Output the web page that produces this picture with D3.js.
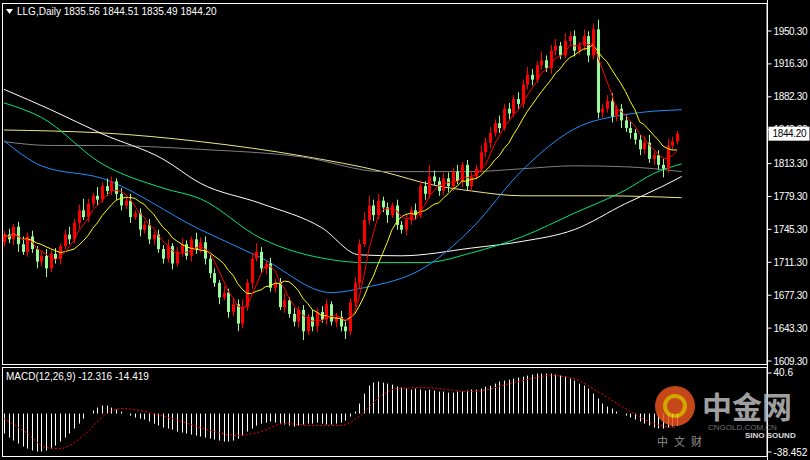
<!DOCTYPE html>
<html><head><meta charset="utf-8">
<script src="https://cdn.jsdelivr.net/npm/d3@7"></script>
<style>body{margin:0;background:#000}svg{display:block;font-family:"Liberation Sans",sans-serif}</style>
</head><body>
<script>
const closes = [1740,1735,1748,1730,1722,1738,1725,1712,1718,1705,1720,
  1715,1728,1740,1735,1752,1765,1758,1772,1780,1776,
  1790,1785,1795,1782,
  1770,1775,1758,1762,1745,1750,1735,1740,1725,
  1715,1728,1710,1722,1730,1718,1735,1725,1732,
  1715,1700,1690,1675,1680,1660,1668,1648,
  1665,1690,1715,1722,
  1705,1710,1685,1690,1665,1672,1658,
  1650,1662,1640,1655,1645,1660,1652,1668,1650,1655,1645,
  1640,
  1670,1690,1730,1755,1770,
  1760,1775,1768,1760,1770,1750,1745,
  1755,1765,1760,1790,1782,1800,1795,1785,
  1798,1790,1805,1795,1812,1790,1800,1808,
  1825,1835,1845,1855,1850,1870,1865,1880,1875,
  1895,1905,1900,1915,1920,1912,1930,1935,1925,1940,1945,
  1930,1935,1945,1925,1952,
  1866,
  1870,1878,1862,1870,1858,1850,1845,1838,
  1828,1835,1818,1822,1812,1808,1832,1836,1844.2];
const firstOpen = 1732;
const wickUp = [4,6,3,5,8,4,6,3,5,7,4, 6,3,5,8,4,6,12,5,3,9, 4,8,5,3, 6,4,7,3,5,4,6,3,5, 4,7,3,5,6,4,3,7,5, 6,4,5,3,7,4,6,5, 8,4,6,9, 5,3,6,4,5,7,3, 6,4,5,3,7,4,6,5,3,4,6, 5, 4,6,5,8,10, 6,7,4,5,3,6,4, 5,4,7,6,5,12,6,4, 5,6,4,7,3,5,6,4, 7,5,6,4,8,5,6,4,7, 5,8,6,4,9,5,6,7,4,8,5, 6,4,7,5,6, 10, 5,6,8,4,5,6,7,4, 5,6,8,4,5,6,7,5,3];
const wickDn = [5,4,6,8,3,5,4,7,5,9,4, 5,6,3,5,4,6,3,5,4,6, 3,5,4,6, 5,4,6,3,7,4,5,6,4, 5,4,6,3,5,4,6,5,4, 6,5,4,7,3,6,4,8, 5,4,6,3, 5,6,4,5,3,6,4, 5,6,9,4,5,6,3,5,4,6,5, 8, 4,5,6,3,5, 6,4,5,8,3,5,4, 6,5,4,3,6,5,4,5, 4,6,5,3,6,4,5,3, 4,5,6,4,5,3,6,4,5, 4,5,6,3,5,4,6,5,4,3,5, 6,4,5,7,4, 6, 5,4,6,5,8,4,6,5, 6,5,4,6,5,9,4,5,3];

// long moving averages: [bar index, price]
const maBlue = [[0,1837],[8,1811],[21,1798],[42,1745],[55,1716],[70,1680],[77,1685],[90,1706],[100,1746],[111,1807],[122,1849],[133,1864],[145,1869]];
const maGreen = [[0,1876],[8,1861],[21,1813],[34,1788],[42,1777],[55,1736],[70,1714],[77,1711],[90,1711],[100,1721],[111,1738],[122,1762],[133,1786],[139,1803],[145,1813]];
const maWhite = [[0,1890],[10,1869],[21,1844],[34,1818],[42,1793],[55,1772],[68,1747],[76,1719],[85,1718],[100,1726],[111,1733],[122,1745],[133,1772],[141,1790],[145,1800]];
const maGray = [[0,1836],[10,1832],[21,1832],[42,1828],[64,1820],[81,1805],[90,1805],[100,1805],[111,1808],[122,1811],[133,1810],[145,1805]];
const maLight = [[0,1848],[10,1847],[21,1845],[42,1836],[64,1821],[81,1805],[92,1791],[100,1785],[111,1780],[128,1780],[145,1778]];

const macdHist = [-20,-24,-27,-30,-33,-35,-37,-38,-38,-37,
  -35,-32,-28,-24,-20,-15,-10,-5,
  0,3,6,8,8,6,
  4,2,0,-2,-4,-5,-6,-8,
  -10,-12,-14,-15,-16,-18,-19,-20,-21,-22,-23,-24,-25,-26,-27,-28,-28,-27,
  -25,-22,-18,-15,-12,-10,-9,-8,-9,-10,
  -11,-12,-13,-12,-11,-10,-10,-9,-10,-11,-11,-10,-9,
  -7,-3,2,10,20,28,
  31,32,31,30,29,27,26,
  25,24,25,24,23,24,23,22,22,21,21,22,22,23,24,
  24,25,27,28,30,32,33,34,35,36,
  37,38,39,40,40,40,40,39,38,37,35,
  33,30,28,25,20,15,
  10,7,5,2,0,-2,-4,-6,
  -8,-10,-12,-14,-15,-15,-14,-13,-12.3];
const macdSignal = [[0,-5],[5,-20],[9,-34],[12,-35],[17,-22],[22,0],[25,5],[28,4],[32,0],[38,-8],[45,-18],[50,-22],[55,-18],[60,-10],[66,-12],[72,-12],[76,-3],[80,15],[84,25],[90,26],[100,22],[110,32],[117,38],[122,35],[127,22],[133,5],[139,-10],[144,-14.4]];

const priceTicks = ["1950.30","1916.30","1882.30","1848.30","1813.30","1779.30","1745.30","1711.30","1677.30","1643.30","1609.30"];
const lastPrice = "1844.20";

const W = 810, H = 460, axisX = 767;
const svg = d3.select("body").append("svg").attr("width", W).attr("height", H);
svg.append("rect").attr("width", W).attr("height", H).attr("fill", "#000");

const bars = closes.map((c, i) => {
  const o = i === 0 ? firstOpen : closes[i - 1];
  return { i, o, c, h: Math.max(o, c) + wickUp[i], l: Math.min(o, c) - wickDn[i] };
});

const x = d3.scaleLinear().domain([0, 144]).range([4, 677]);
const y = d3.scaleLinear().domain([1609.3, 1950.3]).range([361, 31]);
const ym = d3.scaleLinear().domain([-38.452, 40.6]).range([452, 373]);

// frames
svg.append("rect").attr("x", 2.5).attr("y", 3.5).attr("width", axisX - 2.5).attr("height", 361)
  .attr("fill", "none").attr("stroke", "#fff");
svg.append("rect").attr("x", 2.5).attr("y", 367.5).attr("width", axisX - 2.5).attr("height", 89)
  .attr("fill", "none").attr("stroke", "#fff");

// moving averages
const sma = n => closes.map((c, i) => d3.mean(closes.slice(Math.max(0, i - n + 1), i + 1)));
const line = d3.line().x((d, i) => x(i)).y(d => y(d));
const sparse = d3.line().x(d => x(d[0])).y(d => y(d[1])).curve(d3.curveMonotoneX);
[[maLight, "#f0e68c"], [maGray, "#808080"], [maWhite, "#ffffff"], [maGreen, "#00e676"], [maBlue, "#1e90ff"]]
  .forEach(([d, col]) => svg.append("path").attr("d", sparse(d)).attr("fill", "none").attr("stroke", col));

const g = svg.append("g");
g.selectAll(".wick").data(bars).join("line")
  .attr("x1", d => Math.round(x(d.i)) + 0.5).attr("x2", d => Math.round(x(d.i)) + 0.5)
  .attr("y1", d => y(d.h)).attr("y2", d => y(d.l))
  .attr("stroke", d => d.c >= d.o ? "#ff0000" : "#98fb98");
g.selectAll(".body").data(bars).join("rect")
  .attr("x", d => Math.round(x(d.i)) - 1).attr("width", 3)
  .attr("y", d => y(Math.max(d.o, d.c))).attr("height", d => Math.max(1, Math.abs(y(d.o) - y(d.c))))
  .attr("fill", d => d.c >= d.o ? "#ff0000" : "#98fb98");

svg.append("path").attr("d", line(sma(10))).attr("fill", "none").attr("stroke", "#ffff00");
svg.append("path").attr("d", line(sma(5))).attr("fill", "none").attr("stroke", "#ff0000");

// price axis
const ax = svg.append("g").attr("transform", `translate(${axisX + 0.5},0)`);
ax.append("line").attr("y1", 0).attr("y2", H).attr("stroke", "#fff");
priceTicks.forEach(t => {
  ax.append("line").attr("x1", 0).attr("x2", 4).attr("y1", y(+t)).attr("y2", y(+t)).attr("stroke", "#fff");
  ax.append("text").attr("x", 6).attr("y", y(+t) + 3.5).attr("fill", "#fff").attr("font-size", 10)
    .attr("textLength", 34).text(t);
});
ax.append("rect").attr("x", 1).attr("y", y(+lastPrice) - 7).attr("width", 41).attr("height", 14).attr("fill", "#fff");
ax.append("text").attr("x", 5).attr("y", y(+lastPrice) + 3.5).attr("fill", "#000").attr("font-size", 10)
  .attr("textLength", 34).text(lastPrice);

// header
svg.append("path").attr("d", "M6,9h7l-3.5,5z").attr("fill", "#fff");
svg.append("text").attr("x", 17).attr("y", 15).attr("fill", "#fff").attr("font-size", 10)
  .text("LLG,Daily  1835.56 1844.51 1835.49 1844.20");

// MACD
svg.selectAll(".hist").data(macdHist).join("line")
  .attr("x1", (d, i) => Math.round(x(i)) + 0.5).attr("x2", (d, i) => Math.round(x(i)) + 0.5)
  .attr("y1", ym(0)).attr("y2", d => ym(d)).attr("stroke", "#fff");
svg.append("path").attr("d", d3.line().x(d => x(d[0])).y(d => ym(d[1])).curve(d3.curveMonotoneX)(macdSignal))
  .attr("fill", "none").attr("stroke", "#ff0000").attr("stroke-dasharray", "2,2");
svg.append("text").attr("x", 6).attr("y", 380).attr("fill", "#fff").attr("font-size", 10).text("MACD(12,26,9) -12.316 -14.419");
[[40.6, "40.6", 376], [-38.452, "-38.452", 456]].forEach(([v, s, yy]) => {
  ax.append("line").attr("x1", 0).attr("x2", 4).attr("y1", ym(v)).attr("y2", ym(v)).attr("stroke", "#fff");
  ax.append("text").attr("x", 6).attr("y", yy).attr("fill", "#fff").attr("font-size", 10).text(s);
});

// watermark
const wm = svg.append("g").attr("opacity", 0.85);
wm.append("circle").attr("cx", 675).attr("cy", 406).attr("r", 20).attr("fill", "#e8541e");
wm.append("circle").attr("cx", 675).attr("cy", 406).attr("r", 10).attr("fill", "none").attr("stroke", "#f5c400").attr("stroke-width", 4);
wm.append("text").attr("x", 702).attr("y", 418).attr("fill", "#bbb").attr("font-size", 30)
  .attr("font-family", "Noto Sans CJK SC").attr("font-weight", "bold").text("中金网");
wm.append("text").attr("x", 708).attr("y", 430).attr("fill", "#888").attr("font-size", 8).text("CNGOLD.COM.CN");
wm.append("text").attr("x", 745).attr("y", 438).attr("fill", "#fff").attr("font-size", 8).attr("font-weight", "bold").text("SINO SOUND");
wm.append("text").attr("x", 657).attr("y", 446).attr("fill", "#aaa").attr("font-size", 11)
  .attr("font-family", "Noto Sans CJK SC").attr("letter-spacing", 6).text("中文财");
</script>
</body></html>
